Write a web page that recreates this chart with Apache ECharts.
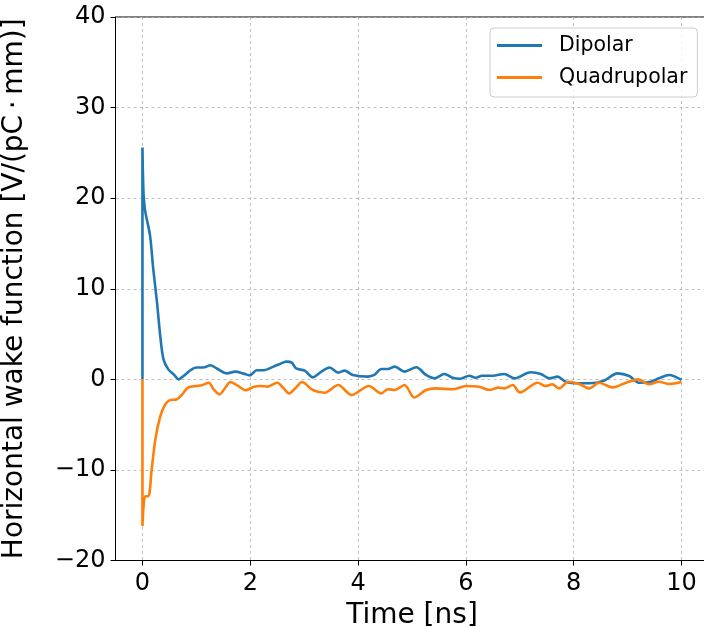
<!DOCTYPE html>
<html>
<head>
<meta charset="utf-8">
<script src="https://cdn.jsdelivr.net/npm/echarts@6/dist/echarts.min.js"></script>
<style>
  html, body { margin: 0; padding: 0; background: #fff; overflow: hidden; }
  #chart { width: 704px; height: 627px; }
</style>
</head>
<body>
<div id="chart"></div>
<script>
// Horizontal wake functions (dipolar and quadrupolar) versus time.
const dipolarTime = [0, 0, 0.02, 0.05, 0.14, 0.2, 0.27, 0.33, 0.39, 0.48, 0.58, 0.67, 0.76, 0.89, 1.0, 1.13, 1.26, 1.38, 1.57, 1.72, 1.88, 1.99, 2.12, 2.25, 2.43, 2.55, 2.67, 2.77, 2.85, 3.01, 3.16, 3.32, 3.47, 3.63, 3.75, 3.9, 4.18, 4.3, 4.43, 4.55, 4.68, 4.86, 5.08, 5.26, 5.42, 5.6, 5.75, 5.9, 6.06, 6.18, 6.3, 6.5, 6.71, 6.9, 7.2, 7.39, 7.55, 7.7, 7.85, 8.1, 8.29, 8.56, 8.81, 9.03, 9.21, 9.43, 9.58, 9.77, 10.0];
const dipolarWake = [0, 25.6, 20.5, 18.6, 15.9, 12.2, 8.5, 4.8, 2.2, 1.1, 0.55, 0.0, 0.37, 1.0, 1.3, 1.3, 1.55, 1.2, 0.66, 0.85, 0.63, 0.44, 1.0, 1.0, 1.4, 1.7, 1.96, 1.85, 1.2, 0.96, 0.22, 0.85, 1.3, 0.74, 0.96, 0.48, 0.3, 0.48, 1.14, 1.14, 1.4, 0.85, 1.33, 0.48, 0.11, 0.59, 0.18, 0.07, 0.4, 0.18, 0.4, 0.4, 0.59, 0.11, 0.78, 0.59, 0.11, 0.3, -0.26, -0.44, -0.44, -0.15, 0.66, 0.37, -0.37, -0.26, 0.11, 0.48, -0.07];

const quadrupolarTime = [0, 0, 0.05, 0.11, 0.17, 0.24, 0.33, 0.42, 0.51, 0.64, 0.73, 0.85, 1.0, 1.1, 1.23, 1.32, 1.43, 1.54, 1.63, 1.78, 1.91, 2.06, 2.19, 2.31, 2.5, 2.62, 2.72, 2.84, 2.96, 3.16, 3.38, 3.63, 3.88, 4.2, 4.43, 4.55, 4.68, 4.86, 5.04, 5.26, 5.44, 5.75, 6.0, 6.24, 6.44, 6.6, 6.71, 6.87, 7.0, 7.33, 7.48, 7.6, 7.73, 7.9, 8.1, 8.29, 8.47, 8.72, 8.97, 9.2, 9.4, 9.58, 9.77, 10.0];
const quadrupolarWake = [0, -16.2, -12.9, -12.9, -10, -6.6, -4.1, -2.8, -2.3, -2.2, -1.7, -0.9, -0.74, -0.66, -0.37, -1.1, -1.66, -0.9, -0.3, -0.74, -1.2, -0.85, -0.74, -0.8, -0.37, -1.0, -1.55, -0.96, -0.3, -1.18, -1.48, -0.63, -1.73, -0.74, -1.55, -1.1, -1.18, -0.63, -2.0, -1.18, -1.0, -1.1, -0.74, -0.81, -1.18, -0.92, -1.0, -0.63, -1.44, -0.37, -0.74, -0.55, -1.0, -0.26, -0.52, -1.0, -0.37, -0.89, -0.37, 0, -0.55, -0.26, -0.52, -0.3];

const timeTicks = [0, 2, 4, 6, 8, 10];
const seriesNames = ['Dipolar', 'Quadrupolar'];

const FONT = 'DejaVu Sans';
const pair = (xs, ys) => xs.map((x, i) => [x, ys[i]]);
const minusSign = v => String(v).replace('-', '\u2212');
const gridLine = { show: true, lineStyle: { color: '#b0b0b0', type: [3, 3], width: 0.8 } };

const chart = echarts.init(document.getElementById('chart'), null, { renderer: 'canvas' });
chart.setOption({
  animation: false,
  backgroundColor: '#fff',
  grid: {
    // the frame runs slightly past the right edge of the canvas
    left: 115.5, right: -4.5, top: 17, bottom: 66.5,
    outerBoundsMode: 'none', containLabel: false,
    show: true, borderColor: '#000', borderWidth: 1, backgroundColor: 'transparent'
  },
  legend: {
    data: seriesNames,
    orient: 'vertical',
    left: 490, top: 28,
    padding: [7, 10, 9, 7],
    itemGap: 11,
    itemWidth: 45, itemHeight: 3,
    icon: 'rect',
    backgroundColor: 'rgba(255,255,255,0.8)',
    borderColor: '#cccccc', borderWidth: 1, borderRadius: 4,
    textStyle: { fontFamily: FONT, fontSize: 20.5, color: '#000', lineHeight: 20, padding: [0, 0, 0, 12] }
  },
  xAxis: {
    type: 'value', min: -0.5, max: 10.5,
    name: 'Time [ns]', nameLocation: 'middle', nameGap: 41,
    nameTextStyle: { fontFamily: FONT, fontSize: 28, color: '#000' },
    axisLine: { show: true, onZero: false, lineStyle: { color: '#000', width: 1 } },
    axisTick: { show: true, length: 5, customValues: timeTicks, lineStyle: { color: '#000' } },
    axisLabel: { customValues: timeTicks, fontFamily: FONT, fontSize: 24, color: '#000', margin: 11, formatter: minusSign },
    splitLine: gridLine
  },
  yAxis: {
    type: 'value', min: -20, max: 40, interval: 10,
    name: 'Horizontal wake function [V/(pC\u2009\u00b7\u2009mm)]', nameLocation: 'middle', nameGap: 87,
    nameTextStyle: { fontFamily: FONT, fontSize: 28, color: '#000' },
    axisLine: { show: true, onZero: false, lineStyle: { color: '#000', width: 1 } },
    axisTick: { show: true, length: 5, lineStyle: { color: '#000' } },
    axisLabel: { fontFamily: FONT, fontSize: 24, color: '#000', margin: 10, formatter: minusSign },
    splitLine: gridLine
  },
  series: [
    {
      name: seriesNames[0], type: 'line', data: pair(dipolarTime, dipolarWake),
      showSymbol: false, symbol: 'none', smooth: 0.3,
      lineStyle: { color: '#1f77b4', width: 2.6 }, itemStyle: { color: '#1f77b4' }
    },
    {
      name: seriesNames[1], type: 'line', data: pair(quadrupolarTime, quadrupolarWake),
      showSymbol: false, symbol: 'none', smooth: 0.3,
      lineStyle: { color: '#ff7f0e', width: 2.6 }, itemStyle: { color: '#ff7f0e' }
    }
  ]
});
</script>
</body>
</html>
